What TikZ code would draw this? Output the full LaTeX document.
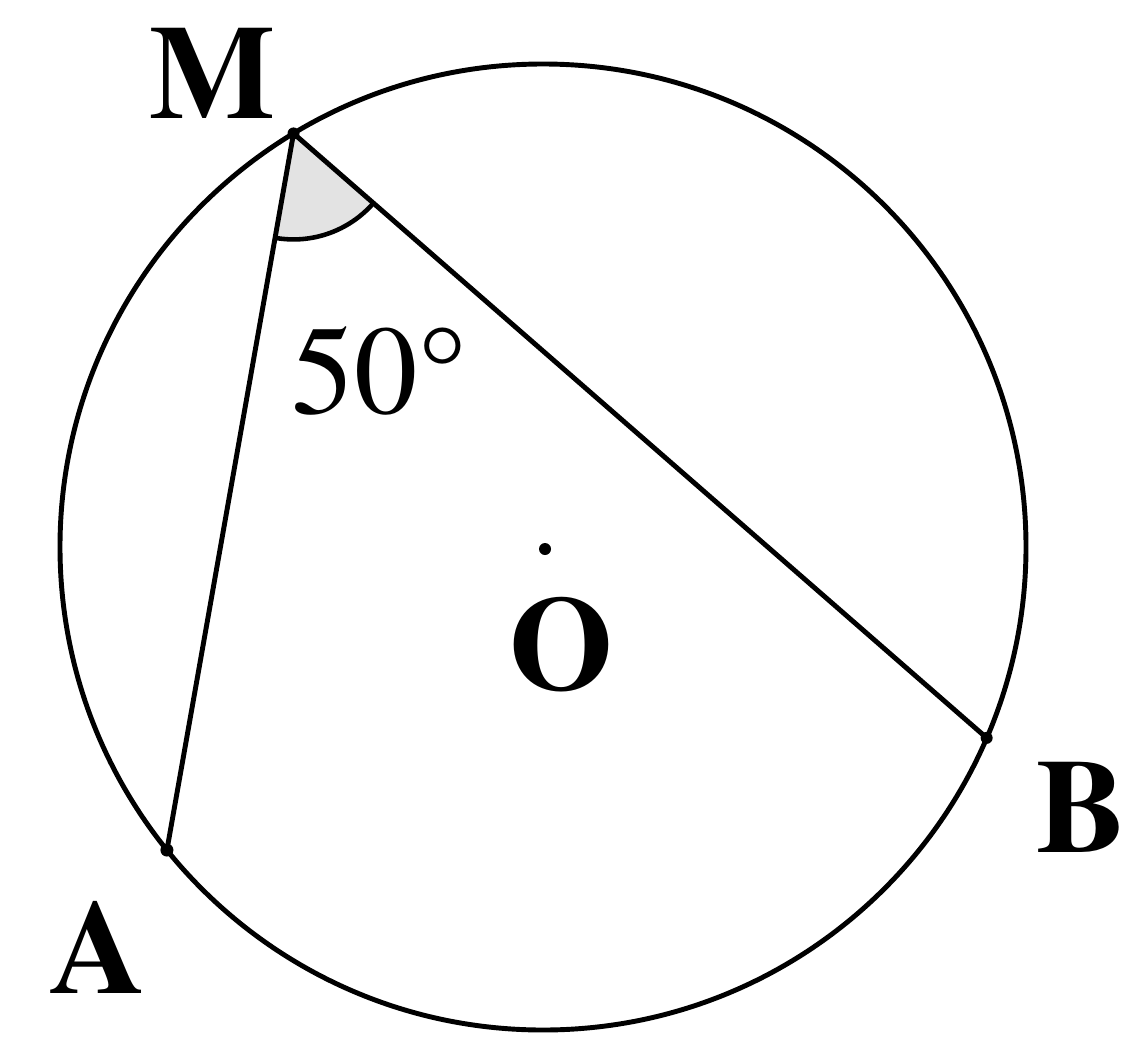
\documentclass[tikz,border=0pt]{standalone}
\usepackage{fontspec}
\setmainfont{texgyretermes}[Extension=.otf, UprightFont=*-regular, BoldFont=*-bold, ItalicFont=*-italic, BoldItalicFont=*-bolditalic]
\begin{document}
\begin{tikzpicture}[
  line width=1.4pt,
  ptlabel/.style={inner sep=0pt, font=\fontsize{38}{40}\selectfont\bfseries},
  anglabel/.style={inner sep=0pt, font=\fontsize{36}{38}\selectfont},
  ptdot/.style={fill=black, draw=none}
]
\useasboundingbox (0,0) rectangle (11.26,-10.39);
\coordinate (O) at (5.43,-5.47);
\coordinate (M) at ([shift={(121.1:4.83)}]O);
\coordinate (A) at ([shift={(218.86:4.83)}]O);
\coordinate (B) at ([shift={(-23.28:4.83)}]O);
% shaded angle
\fill[gray!22] (M) -- ([shift={(-100:1.06)}]M) arc[start angle=-100, end angle=-41.1, radius=1.06] -- cycle;
\draw[line width=1.3pt] ([shift={(-100:1.06)}]M) arc[start angle=-100, end angle=-41.1, radius=1.06];
% circle
\draw (O) circle[radius=4.83];
% chords
\draw (A) -- (M) -- (B);
% points
\fill[ptdot] (M) circle[radius=0.06];
\fill[ptdot] (A) circle[radius=0.065];
\fill[ptdot] (B) circle[radius=0.06];
\fill[ptdot] (5.45,-5.49) circle[radius=0.06];
% labels
\node[ptlabel] (lM) at (2.13,-0.73) {M};
\node[ptlabel] (lA) at (0.98,-9.47) {A};
\node[ptlabel] (lB) at (10.81,-8.07) {B};
\node[ptlabel] (lO) at (5.61,-6.45) {O};
\node[anglabel, anchor=base] (ang) at (3.80,-4.13) {50°};
\end{tikzpicture}
\end{document}
